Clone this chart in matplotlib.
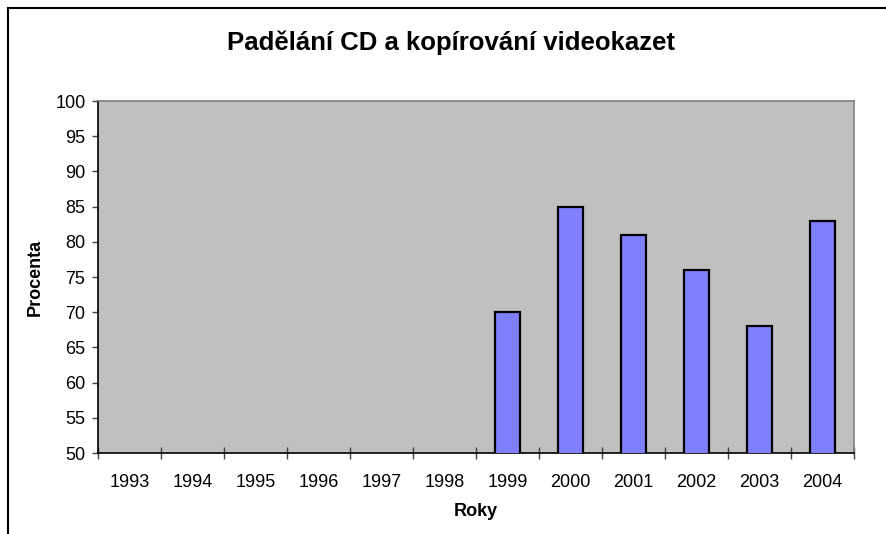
import numpy as np
import matplotlib
matplotlib.use("Agg")
import matplotlib.pyplot as plt
from matplotlib.lines import Line2D

plt.rcParams['font.family'] = ['Liberation Sans', 'DejaVu Sans']

years = ["1993", "1994", "1995", "1996", "1997", "1998",
         "1999", "2000", "2001", "2002", "2003", "2004"]
percent = [np.nan, np.nan, np.nan, np.nan, np.nan, np.nan,
           70, 85, 81, 76, 68, 83]

fig = plt.figure(figsize=(8.87, 5.34), dpi=100)
W, H = 887, 534
ax = fig.add_axes([98 / W, 1 - 453 / H, (854 - 98) / W, (453 - 101) / H])

x = np.arange(len(years))
ax.bar(x, percent, width=0.4, color="#8080FF", edgecolor="black", linewidth=1.6, zorder=3)

ax.set_facecolor("#C0C0C0")
ax.set_xlim(-0.5, len(years) - 0.5)
ax.set_ylim(50, 100)
ax.set_yticks(np.arange(50, 101, 5))
ax.set_xticks(np.arange(-0.5, len(years), 1.0))
ax.set_xticklabels([])
ax.set_xticks(x, minor=True)
ax.set_xticklabels(years, minor=True)
ax.tick_params(axis="x", which="major", direction="inout", length=8, width=1, color="#404040")
ax.tick_params(axis="x", which="minor", length=0, pad=15, labelsize=13)
ax.tick_params(axis="y", direction="out", length=4, width=1, color="#404040", labelsize=13, pad=5)

for side in ["top", "right"]:
    ax.spines[side].set_color("#808080")
    ax.spines[side].set_linewidth(1.2)
for side in ["left", "bottom"]:
    ax.spines[side].set_color("black")
    ax.spines[side].set_linewidth(1.2)

ax.set_xlabel("Roky", fontsize=13, fontweight="bold", labelpad=9)
ax.set_ylabel("Procenta", fontsize=13, fontweight="bold", labelpad=8)

fig.text(451 / W, 1 - 43 / H, "Padělání CD a kopírování videokazet",
         fontsize=18.5, fontweight="bold", ha="center", va="center")

# outer chart frame (cut off at right and bottom)
fig.add_artist(Line2D([8 / W, 8 / W], [0, 1 - 8 / H], color="black", lw=1.5, transform=fig.transFigure))
fig.add_artist(Line2D([8 / W, 1], [1 - 8 / H, 1 - 8 / H], color="black", lw=1.5, transform=fig.transFigure))

fig.savefig("out.png", dpi=100)
